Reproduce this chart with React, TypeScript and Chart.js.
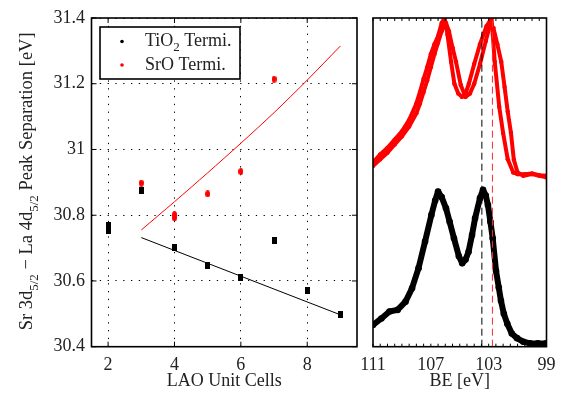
import React, { useEffect, useRef } from 'react';
import { Chart, registerables } from 'chart.js';
Chart.register(...registerables);

const FONT = '"Liberation Serif", "Times New Roman", serif';
const TEXT = '#222';

// ---- Left panel data ----
const cellsTiO2 = [2, 2, 3, 4, 5, 6, 7, 8, 9];
const sepTiO2 = [30.77, 30.755, 30.876, 30.702, 30.646, 30.611, 30.723, 30.571, 30.497];
const cellsSrO = [3, 4, 4, 5, 6, 7];
const sepSrO = [30.898, 30.802, 30.792, 30.865, 30.933, 31.214];
const fitTiO2X = [3, 9];
const fitTiO2Y = [30.732, 30.497];
const fitSrOX = [3, 4, 5, 6, 7, 8, 9];
const fitSrOY = [30.755, 30.841, 30.929, 31.019, 31.112, 31.211, 31.315];
const xTicksLeft = [2, 4, 6, 8];
const yTicksLeft = [30.4, 30.6, 30.8, 31, 31.2, 31.4];
const seriesLabels = ['TiO', 'SrO Termi.'];

// ---- Right panel data ----
const beBlack = [111, 110.42, 109.86, 109.3, 108.75, 108.3, 107.85, 107.4, 106.96, 106.7, 106.5, 106.25, 105.95, 105.7, 105.4, 105.06, 104.83, 104.6, 104.39, 104.15, 103.94, 103.6, 103.39, 103.2, 103.05, 102.88, 102.72, 102.49, 102.3, 102.15, 101.95, 101.71, 101.4, 101.04, 100.6, 100.14, 99.6, 99.03];
const intBlack = [0.066, 0.086, 0.107, 0.112, 0.137, 0.178, 0.239, 0.32, 0.401, 0.445, 0.472, 0.455, 0.421, 0.38, 0.33, 0.275, 0.254, 0.265, 0.289, 0.34, 0.391, 0.452, 0.477, 0.46, 0.431, 0.38, 0.33, 0.23, 0.18, 0.14, 0.1, 0.07, 0.04, 0.026, 0.015, 0.01, 0.01, 0.01];
const beRedA = [111, 110.5, 110, 109.5, 109, 108.5, 108, 107.75, 107.5, 107.25, 107, 106.75, 106.5, 106.25, 106.05, 105.85, 105.6, 105.37, 105.1, 104.85, 104.6, 104.37, 104, 103.6, 103.15, 102.8, 102.58, 102.27, 102, 101.68, 101.3, 101, 100.5, 100, 99.5, 99];
const intRedA = [0.56, 0.585, 0.605, 0.63, 0.655, 0.69, 0.74, 0.775, 0.815, 0.85, 0.89, 0.92, 0.945, 0.985, 1.0, 0.95, 0.867, 0.8, 0.77, 0.76, 0.77, 0.8, 0.86, 0.92, 0.975, 1.0, 0.867, 0.73, 0.65, 0.57, 0.53, 0.525, 0.525, 0.527, 0.522, 0.52];
const beRedB = [111, 110.5, 110, 109.5, 109, 108.5, 108, 107.75, 107.5, 107.25, 107, 106.75, 106.5, 106.25, 105.95, 105.75, 105.5, 105.26, 104.93, 104.6, 104.3, 104, 103.6, 103.2, 102.9, 102.67, 102.4, 102.13, 101.9, 101.68, 101.46, 101.26, 101, 100.6, 100, 99.5, 99];
const intRedB = [0.55, 0.57, 0.59, 0.615, 0.64, 0.67, 0.71, 0.74, 0.775, 0.81, 0.85, 0.89, 0.925, 0.96, 0.985, 0.96, 0.91, 0.867, 0.796, 0.76, 0.77, 0.8, 0.86, 0.93, 0.98, 0.97, 0.92, 0.867, 0.79, 0.715, 0.651, 0.569, 0.53, 0.52, 0.525, 0.52, 0.515];
const dashBlackBE = 103.47;
const dashRedBE = 102.74;
const beLabels = [111, 107, 103, 99];

const zip = (xs: number[], ys: number[]) => xs.map((x, i) => ({ x, y: ys[i] }));

function makeMarker(w: number, h: number, color: string, ellipse: boolean) {
  const c = document.createElement('canvas');
  c.width = w;
  c.height = h;
  const g = c.getContext('2d')!;
  g.fillStyle = color;
  if (ellipse) {
    g.beginPath();
    g.ellipse(w / 2, h / 2, w / 2, h / 2, 0, 0, Math.PI * 2);
    g.fill();
  } else {
    g.fillRect(0, 0, w, h);
  }
  return c;
}

const framePlugin = {
  id: 'frame',
  afterDatasetsDraw(chart: any, _args: any, opts: any) {
    const { ctx, chartArea: a } = chart;
    ctx.save();
    ctx.strokeStyle = '#000';
    ctx.lineWidth = 1;
    ctx.setLineDash([]);
    const seg = (x1: number, y1: number, x2: number, y2: number) => {
      ctx.beginPath();
      ctx.moveTo(x1, y1);
      ctx.lineTo(x2, y2);
      ctx.stroke();
    };
    const xs = chart.scales.x;
    xs.ticks.forEach((t: any) => {
      const px = xs.getPixelForValue(t.value);
      const len = t.label ? opts.major : opts.minor;
      seg(px, a.bottom, px, a.bottom - len);
      seg(px, a.top, px, a.top + len);
    });
    if (opts.yTicks) {
      const ys = chart.scales.y;
      ys.ticks.forEach((t: any) => {
        const py = ys.getPixelForValue(t.value);
        seg(a.left, py, a.left + opts.major, py);
        seg(a.right, py, a.right - opts.major, py);
      });
    }
    ctx.lineWidth = 1.6;
    ctx.strokeRect(a.left, a.top, a.right - a.left, a.bottom - a.top);
    ctx.restore();
  },
};

function drawRich(ctx: CanvasRenderingContext2D, parts: { t: string; sub?: boolean }[], x: number, y: number, size: number, subSize: number, subOff: number, align: 'left' | 'center') {
  const widths = parts.map((p) => {
    ctx.font = `${p.sub ? subSize : size}px ${FONT}`;
    return ctx.measureText(p.t).width;
  });
  const total = widths.reduce((s, w) => s + w, 0);
  let cx = align === 'center' ? x - total / 2 : x;
  ctx.textBaseline = 'middle';
  ctx.textAlign = 'left';
  parts.forEach((p, i) => {
    ctx.font = `${p.sub ? subSize : size}px ${FONT}`;
    ctx.fillText(p.t, cx, y + (p.sub ? subOff : 0));
    cx += widths[i];
  });
}

const legendPlugin = {
  id: 'innerLegend',
  afterDatasetsDraw(chart: any) {
    const { ctx, chartArea: a } = chart;
    const x0 = a.left + 8.5;
    const y0 = a.top + 9;
    const w = 140;
    const h = 52;
    ctx.save();
    ctx.fillStyle = '#fff';
    ctx.fillRect(x0, y0, w, h);
    ctx.strokeStyle = '#000';
    ctx.lineWidth = 1.6;
    ctx.strokeRect(x0, y0, w, h);
    const rows = [
      { color: '#000', parts: [{ t: seriesLabels[0] }, { t: '2', sub: true }, { t: ' Termi.' }] },
      { color: '#f00', parts: [{ t: seriesLabels[1] }] },
    ];
    rows.forEach((r, i) => {
      const cy = y0 + 14.5 + i * 23.5;
      ctx.fillStyle = r.color;
      ctx.beginPath();
      ctx.arc(x0 + 22, cy, 1.8, 0, Math.PI * 2);
      ctx.fill();
      ctx.fillStyle = TEXT;
      drawRich(ctx, r.parts, x0 + 45, cy, 18, 13, 6, 'left');
    });
    ctx.restore();
  },
};

const yTitlePlugin = {
  id: 'yTitleRich',
  afterDraw(chart: any) {
    const { ctx, chartArea: a } = chart;
    ctx.save();
    ctx.translate(27, (a.top + a.bottom) / 2 - 1);
    ctx.rotate(-Math.PI / 2);
    ctx.fillStyle = TEXT;
    drawRich(
      ctx,
      [
        { t: 'Sr 3d' },
        { t: '5/2', sub: true },
        { t: ' \u2212 La 4d' },
        { t: '5/2', sub: true },
        { t: ' Peak Separation [eV]' },
      ],
      0,
      0,
      18.5,
      13,
      8,
      'center'
    );
    ctx.restore();
  },
};

const tickFont = { family: FONT, size: 18 };

export default function App() {
  const leftRef = useRef<HTMLCanvasElement>(null);
  const rightRef = useRef<HTMLCanvasElement>(null);

  useEffect(() => {
    document.body.style.margin = '0';
    const sq = makeMarker(5, 7, '#000', false);
    const el = makeMarker(5, 7, '#f00', true);

    const left = new Chart(leftRef.current!, {
      type: 'scatter',
      data: {
        datasets: [
          { label: 'SrO pts', data: zip(cellsSrO, sepSrO), pointStyle: el as any, pointRadius: 3, showLine: false },
          { label: 'TiO2 pts', data: zip(cellsTiO2, sepTiO2), pointStyle: sq as any, pointRadius: 3, showLine: false },
          { label: 'SrO fit', data: zip(fitSrOX, fitSrOY), showLine: true, borderColor: '#f00', borderWidth: 1, pointRadius: 0, tension: 0.3 },
          { label: 'TiO2 fit', data: zip(fitTiO2X, fitTiO2Y), showLine: true, borderColor: '#000', borderWidth: 1, pointRadius: 0 },
        ],
      },
      options: {
        animation: false,
        responsive: false,
        layout: { padding: { top: 18, right: 9, left: 0, bottom: 0 } },
        plugins: { legend: { display: false }, tooltip: { enabled: false }, frame: { major: 5, minor: 5, yTicks: true } } as any,
        scales: {
          x: {
            type: 'linear',
            min: 1.5,
            max: 9.5,
            afterFit: (s: any) => { s.height = 48.3; },
            afterBuildTicks: (s: any) => { s.ticks = xTicksLeft.map((v) => ({ value: v })); },
            ticks: { autoSkip: false, maxRotation: 0, padding: 7.5, color: TEXT, font: tickFont, callback: (v: any) => String(v) },
            grid: { color: '#000', lineWidth: 1, drawTicks: false },
            border: { display: false, dash: [1.3, 6.5] },
            title: { display: true, text: 'LAO Unit Cells', color: TEXT, font: tickFont, padding: { top: 0, bottom: 3 } },
          },
          y: {
            type: 'linear',
            min: 30.4,
            max: 31.4,
            afterFit: (s: any) => { s.width = 91.5; },
            afterBuildTicks: (s: any) => { s.ticks = yTicksLeft.map((v) => ({ value: v })); },
            ticks: { autoSkip: false, padding: 6.5, color: TEXT, font: tickFont, callback: (v: any) => String(Math.round(Number(v) * 10) / 10) },
            grid: { color: '#000', lineWidth: 1, drawTicks: false },
            border: { display: false, dash: [1.3, 6.5] },
          },
        },
      } as any,
      plugins: [framePlugin, legendPlugin, yTitlePlugin],
    });

    const lineDs = (label: string, xs: number[], ys: number[], color: string, width: number, dash?: number[]) => ({
      label,
      data: zip(xs, ys),
      showLine: true,
      borderColor: color,
      backgroundColor: color,
      borderWidth: width,
      borderDash: dash || [],
      pointRadius: dash ? 0 : width * 0.55,
      pointBorderWidth: 0,
      borderJoinStyle: 'round',
      borderCapStyle: dash ? 'butt' : 'round',
    });

    const right = new Chart(rightRef.current!, {
      type: 'scatter',
      data: {
        datasets: [
          lineDs('dash black', [dashBlackBE, dashBlackBE], [0, 1], '#000', 1, [7, 4]),
          lineDs('dash red', [dashRedBE, dashRedBE], [0, 1], '#ff2a2a', 1, [7, 4]),
          lineDs('SrO A', beRedA, intRedA, '#f00', 4),
          lineDs('SrO B', beRedB, intRedB, '#f00', 4),
          lineDs('TiO2', beBlack, intBlack, '#000', 6),
        ] as any,
      },
      options: {
        animation: false,
        responsive: false,
        layout: { padding: { top: 18, left: 23, right: 11.3, bottom: 0 } },
        plugins: { legend: { display: false }, tooltip: { enabled: false }, frame: { major: 3, minor: 3, yTicks: false } } as any,
        scales: {
          x: {
            type: 'linear',
            reverse: true,
            min: 99,
            max: 111,
            afterFit: (s: any) => { s.height = 48.3; },
            ticks: {
              stepSize: 0.5,
              includeBounds: false,
              autoSkip: false,
              maxRotation: 0,
              padding: 7.5,
              color: TEXT,
              font: tickFont,
              callback: (v: any) => (beLabels.some((b) => Math.abs(b - Number(v)) < 1e-6) ? String(Math.round(Number(v))) : ''),
            },
            grid: { display: false, drawTicks: false },
            border: { display: false },
            title: { display: true, text: 'BE [eV]', color: TEXT, font: tickFont, padding: { top: 0, bottom: 3 } },
          },
          y: { type: 'linear', display: false, min: 0, max: 1 },
        },
      } as any,
      plugins: [framePlugin],
    });

    return () => {
      left.destroy();
      right.destroy();
    };
  }, []);

  return (
    <div style={{ position: 'relative', width: 563, height: 395, background: '#fff' }}>
      <canvas ref={leftRef} width={366} height={395} style={{ position: 'absolute', left: 0, top: 0 }} />
      <canvas ref={rightRef} width={213} height={395} style={{ position: 'absolute', left: 350, top: 0 }} />
    </div>
  );
}
